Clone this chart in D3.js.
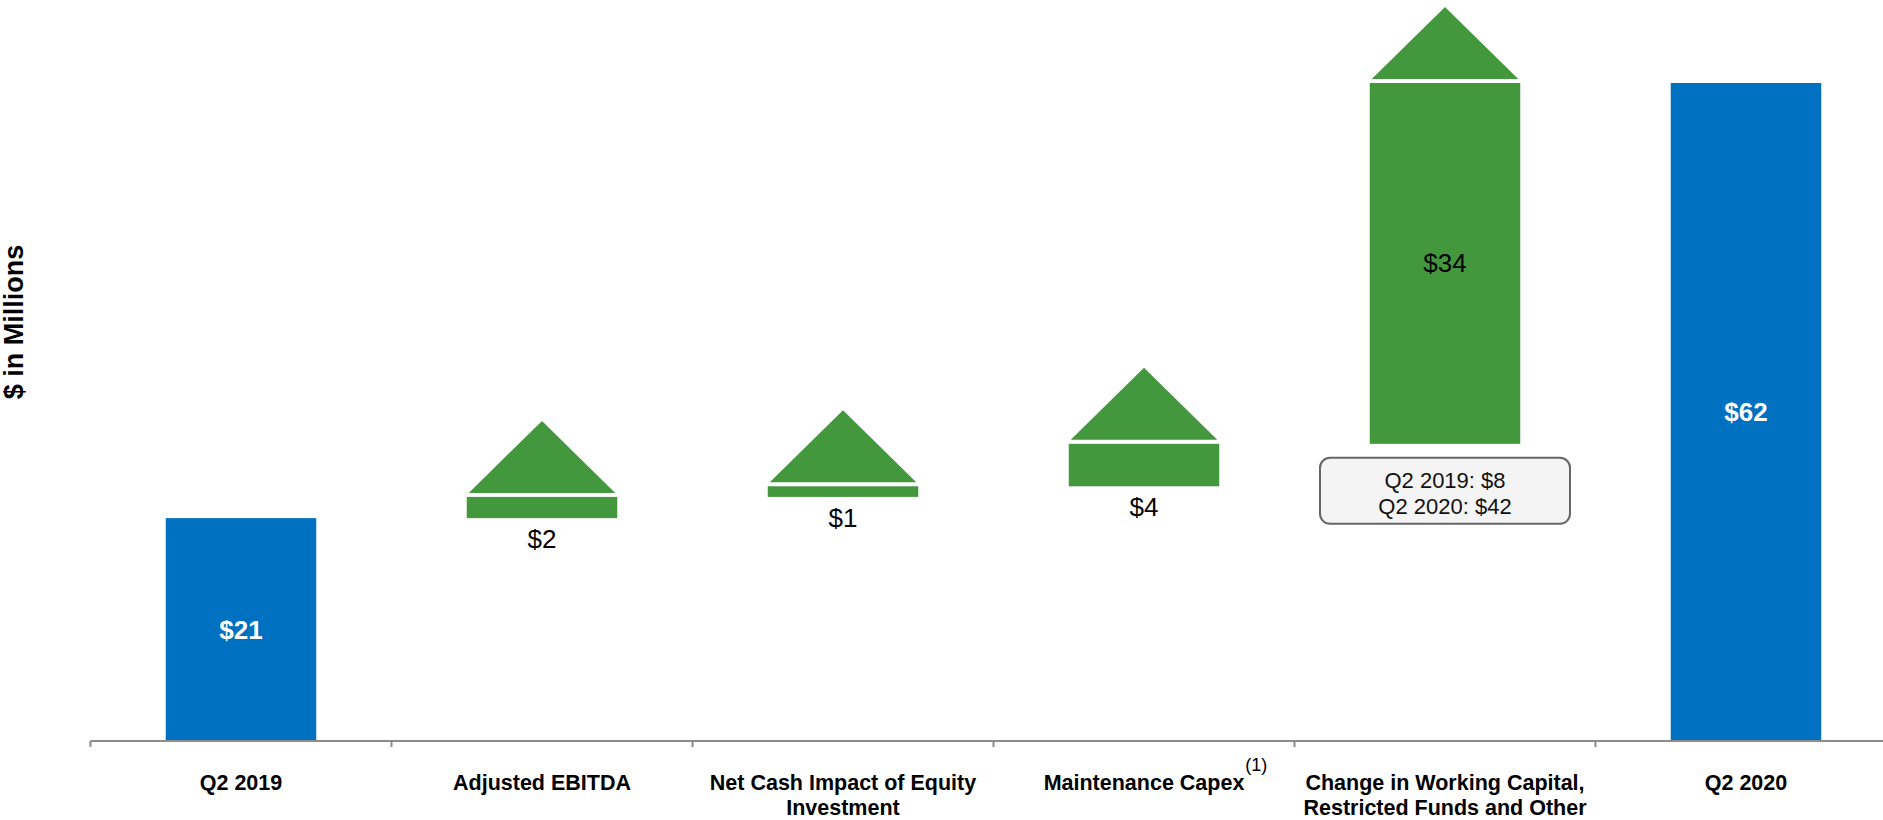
<!DOCTYPE html>
<html>
<head>
<meta charset="utf-8">
<script src="https://cdn.jsdelivr.net/npm/d3@7"></script>
<style>
  html, body { margin: 0; padding: 0; background: #ffffff; }
  svg { display: block; }
  text { font-family: "Liberation Sans", Arial, sans-serif; }
</style>
</head>
<body>
<svg id="chart" width="1883" height="820"></svg>
<script>
// ---- data ----
const categories = ["Q2 2019", "Adjusted EBITDA", "Net Cash Impact of Equity Investment", "Maintenance Capex", "Change in Working Capital, Restricted Funds and Other", "Q2 2020"];
const labelLines = [["Q2 2019"], ["Adjusted EBITDA"], ["Net Cash Impact of Equity", "Investment"], ["Maintenance Capex"], ["Change in Working Capital,", "Restricted Funds and Other"], ["Q2 2020"]];
const footnotes = ["", "", "", "(1)", "", ""];
const values = [21, 2, 1, 4, 34, 62];
const barTypes = ["total", "increase", "increase", "increase", "increase", "total"];
const valueLabels = ["$21", "$2", "$1", "$4", "$34", "$62"];
const calloutLines = ["Q2 2019: $8", "Q2 2020: $42"];
const calloutCategory = "Change in Working Capital, Restricted Funds and Other";
const yAxisTitle = "$ in Millions";

// ---- layout ----
const svg = d3.select("#chart");
const axisY = 741;
const x = d3.scaleBand().domain(categories).range([90.5, 1896.5]).padding(0);
const y = d3.scaleLinear().domain([0, 62]).range([axisY, 83]);
const barW = x.bandwidth() * 0.5;
const blue = "#0070C0", green = "#43983E";

// build waterfall rows
let run = 0;
const rows = categories.map((c, i) => {
  let lo, hi;
  if (barTypes[i] === "total") { lo = 0; hi = values[i]; run = values[i]; }
  else { lo = run; hi = run + values[i]; run = hi; }
  return { c, i, lo, hi, type: barTypes[i], label: valueLabels[i] };
});

const cx = d => x(d.c) + x.bandwidth() / 2;

// bars
svg.append("g").selectAll("rect").data(rows).join("rect")
  .attr("x", d => cx(d) - barW / 2)
  .attr("y", d => y(d.hi))
  .attr("width", barW)
  .attr("height", d => y(d.lo) - y(d.hi))
  .attr("fill", d => d.type === "total" ? blue : green);

// arrow heads on increases
const triH = 72, triGap = 4, triInset = 2;
svg.append("g").selectAll("path").data(rows.filter(d => d.type === "increase")).join("path")
  .attr("d", d => {
    const base = y(d.hi) - triGap;
    const l = cx(d) - barW / 2 + triInset, r = cx(d) + barW / 2 - triInset;
    return `M${l},${base}L${cx(d)},${base - triH}L${r},${base}Z`;
  })
  .attr("fill", green);

// axis line + ticks
const axisG = svg.append("g");
axisG.append("line")
  .attr("x1", x.range()[0]).attr("x2", x.range()[1])
  .attr("y1", axisY).attr("y2", axisY)
  .attr("stroke", "#8c8c8c").attr("stroke-width", 2);
axisG.selectAll("line.tick").data(categories).join("line")
  .attr("class", "tick")
  .attr("x1", d => x(d)).attr("x2", d => x(d))
  .attr("y1", axisY).attr("y2", axisY + 6)
  .attr("stroke", "#8c8c8c").attr("stroke-width", 2);

// category labels
const catG = svg.append("g");
categories.forEach((c, i) => {
  const t = catG.append("text")
    .attr("x", x(c) + x.bandwidth() / 2)
    .attr("y", 790)
    .attr("text-anchor", "middle")
    .attr("font-size", 21.5)
    .attr("font-weight", "bold")
    .attr("fill", "#000");
  labelLines[i].forEach((ln, k) => {
    t.append("tspan").attr("x", x(c) + x.bandwidth() / 2).attr("dy", k === 0 ? 0 : 25).text(ln);
  });
  if (footnotes[i]) {
    const w = t.node().getComputedTextLength();
    catG.append("text")
      .attr("x", x(c) + x.bandwidth() / 2 + w / 2 + 1)
      .attr("y", 771)
      .attr("font-size", 18)
      .attr("fill", "#000")
      .text(footnotes[i]);
  }
});

// value labels
svg.append("g").selectAll("text").data(rows).join("text")
  .attr("x", d => cx(d))
  .attr("y", d => {
    const h = y(d.lo) - y(d.hi);
    if (d.type === "total" || h > 60) return (y(d.lo) + y(d.hi)) / 2 + 9;
    return y(d.lo) + 30;
  })
  .attr("text-anchor", "middle")
  .attr("font-size", 26)
  .attr("font-weight", d => d.type === "total" ? "bold" : "normal")
  .attr("fill", d => d.type === "total" ? "#ffffff" : "#000000")
  .text(d => d.label);

// callout
const cRow = rows.find(d => d.c === calloutCategory);
const boxW = 250, boxH = 66;
const boxTop = y(cRow.lo) + 14;
const callG = svg.append("g");
callG.append("rect")
  .attr("x", cx(cRow) - boxW / 2).attr("y", boxTop)
  .attr("width", boxW).attr("height", boxH)
  .attr("rx", 10).attr("ry", 10)
  .attr("fill", "#f4f4f4").attr("stroke", "#666666").attr("stroke-width", 2);
calloutLines.forEach((ln, k) => {
  callG.append("text")
    .attr("x", cx(cRow)).attr("y", boxTop + 30 + k * 26)
    .attr("text-anchor", "middle")
    .attr("font-size", 22)
    .attr("fill", "#111")
    .text(ln);
});

// y-axis title
svg.append("text")
  .attr("transform", "translate(23,322) rotate(-90)")
  .attr("text-anchor", "middle")
  .attr("font-size", 27)
  .attr("font-weight", "bold")
  .attr("fill", "#000")
  .text(yAxisTitle);
</script>
</body>
</html>
